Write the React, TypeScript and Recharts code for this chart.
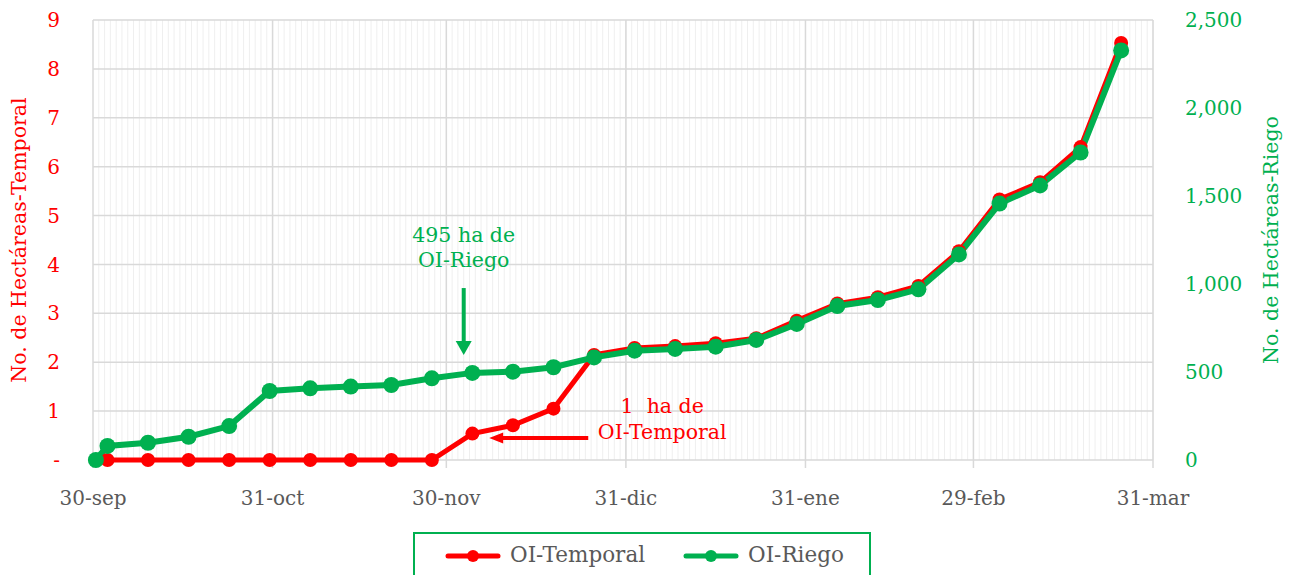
import React from 'react';
import { LineChart, Line, XAxis, YAxis, CartesianGrid, Legend, ReferenceLine, Label } from 'recharts';

const FONT = '"DejaVu Serif", serif';
const RED = '#ff0000';
const GREEN = '#00b050';
const GRAY_TEXT = '#595959';

const START = Date.UTC(2023, 8, 30);
// each date occupies a one-day slot on the axis; points sit at the slot centre
const dayOf = (iso: string) => Math.round((Date.parse(iso + 'T00:00:00Z') - START) / 86400000) + 0.5;

const temporalDates = [
  '2023-10-02', '2023-10-09', '2023-10-16', '2023-10-23', '2023-10-30',
  '2023-11-06', '2023-11-13', '2023-11-20', '2023-11-27',
  '2023-12-04', '2023-12-11', '2023-12-18', '2023-12-25',
  '2024-01-01', '2024-01-08', '2024-01-15', '2024-01-22', '2024-01-29',
  '2024-02-05', '2024-02-12', '2024-02-19', '2024-02-26',
  '2024-03-04', '2024-03-11', '2024-03-18', '2024-03-25',
];
const temporalValues = [
  0, 0, 0, 0, 0,
  0, 0, 0, 0,
  0.54, 0.71, 1.05, 2.15,
  2.29, 2.33, 2.39, 2.49, 2.85,
  3.2, 3.33, 3.56, 4.27,
  5.33, 5.68, 6.4, 8.53,
];

const riegoDates = [
  '2023-09-30',
  '2023-10-02', '2023-10-09', '2023-10-16', '2023-10-23', '2023-10-30',
  '2023-11-06', '2023-11-13', '2023-11-20', '2023-11-27',
  '2023-12-04', '2023-12-11', '2023-12-18', '2023-12-25',
  '2024-01-01', '2024-01-08', '2024-01-15', '2024-01-22', '2024-01-29',
  '2024-02-05', '2024-02-12', '2024-02-19', '2024-02-26',
  '2024-03-04', '2024-03-11', '2024-03-18', '2024-03-25',
];
const riegoValues = [
  0,
  80, 98, 132, 193, 392,
  407, 417, 426, 464,
  495, 502, 527, 583,
  621, 631, 644, 682, 773,
  875, 909, 970, 1168,
  1457, 1560, 1747, 2327,
];

const xTickDays = [0, 31, 61, 92, 123, 152, 183];
const xTickLabels = ['30-sep', '31-oct', '30-nov', '31-dic', '31-ene', '29-feb', '31-mar'];
const leftTicks = [0, 1, 2, 3, 4, 5, 6, 7, 8, 9];
const rightTicks = [0, 500, 1000, 1500, 2000, 2500];
const minorDays = Array.from({ length: 183 }, (_, i) => i + 1);
const X_MAX = 183;

// annotation anchors (data coordinates)
const riegoNoteDay = 64;
const riegoNoteFrom = 977;
const riegoNoteTo = 597;
const temporalNoteFromDay = 85.5;
const temporalNoteToDay = 68.4;
const temporalNoteValue = 0.45;

type Row = { day: number; temporal?: number; riego?: number };
const rowMap = new Map<number, Row>();
riegoDates.forEach((d, i) => {
  const day = dayOf(d);
  const r = rowMap.get(day) || { day };
  r.riego = riegoValues[i];
  rowMap.set(day, r);
});
temporalDates.forEach((d, i) => {
  const day = dayOf(d);
  const r = rowMap.get(day) || { day };
  r.temporal = temporalValues[i];
  rowMap.set(day, r);
});
const data: Row[] = Array.from(rowMap.values()).sort((a, b) => a.day - b.day);

const GreenArrow = (p: any) => {
  const { x1, y1, x2, y2 } = p;
  const head = 14;
  const hw = 8;
  return (
    <g>
      <line x1={x1} y1={y1} x2={x2} y2={y2 - head + 1} stroke={GREEN} strokeWidth={4} />
      <polygon points={`${x2 - hw},${y2 - head} ${x2 + hw},${y2 - head} ${x2},${y2}`} fill={GREEN} />
      <text x={x1} y={y1 - 46} textAnchor="middle" fill={GREEN} fontFamily={FONT} fontSize={20.5}>495 ha de</text>
      <text x={x1} y={y1 - 21} textAnchor="middle" fill={GREEN} fontFamily={FONT} fontSize={20.5}>OI-Riego</text>
    </g>
  );
};

const RedArrow = (p: any) => {
  const { x1, y1, x2, y2 } = p;
  const head = 14;
  const hw = 5.5;
  return (
    <g>
      <line x1={x1} y1={y1} x2={x2 + head - 1} y2={y2} stroke={RED} strokeWidth={4} />
      <polygon points={`${x2 + head},${y2 - hw} ${x2 + head},${y2 + hw} ${x2},${y2}`} fill={RED} />
      <text x={x1 + 74} y={y1 - 25} textAnchor="middle" fill={RED} fontFamily={FONT} fontSize={20.5} style={{ whiteSpace: 'pre' }}>{'1  ha de'}</text>
      <text x={x1 + 74} y={y1 + 1} textAnchor="middle" fill={RED} fontFamily={FONT} fontSize={20.5}>OI-Temporal</text>
    </g>
  );
};

const LegendIcon = ({ color }: { color: string }) => (
  <svg width={56} height={14} style={{ display: 'block' }}>
    <line x1={3} y1={7} x2={53} y2={7} stroke={color} strokeWidth={5} strokeLinecap="round" />
    <circle cx={28} cy={7} r={6} fill={color} />
  </svg>
);

const LegendContent = () => (
  <div style={{ position: 'relative', width: '100%', height: '100%', fontFamily: FONT, fontSize: 21.5, color: GRAY_TEXT }}>
    <div style={{ position: 'absolute', left: 30, top: 15 }}><LegendIcon color={RED} /></div>
    <div style={{ position: 'absolute', left: 95, top: 7, lineHeight: '28px', whiteSpace: 'nowrap' }}>OI-Temporal</div>
    <div style={{ position: 'absolute', left: 268, top: 15 }}><LegendIcon color={GREEN} /></div>
    <div style={{ position: 'absolute', left: 333, top: 7, lineHeight: '28px', whiteSpace: 'nowrap' }}>OI-Riego</div>
  </div>
);

const LeftTitle = (props: any) => {
  const vb = props.viewBox || { x: 0, y: 0, width: 0, height: 0 };
  const cx = vb.x + 11;
  const cy = vb.y + vb.height / 2;
  return (
    <text x={cx} y={cy} transform={`rotate(-90 ${cx} ${cy})`} textAnchor="middle" dominantBaseline="central" fill={RED} fontFamily={FONT} fontSize={20.5}>
      No. de Hectáreas-Temporal
    </text>
  );
};

const RightTitle = (props: any) => {
  const vb = props.viewBox || { x: 0, y: 0, width: 0, height: 0 };
  const cx = vb.x + 118;
  const cy = vb.y + vb.height / 2;
  return (
    <text x={cx} y={cy} transform={`rotate(-90 ${cx} ${cy})`} textAnchor="middle" dominantBaseline="central" fill={GREEN} fontFamily={FONT} fontSize={20.5}>
      No. de Hectáreas-Riego
    </text>
  );
};

const applyScale = (s: any, v: number): number | null => {
  if (!s) return null;
  if (typeof s === 'function') {
    const r = s(v);
    return typeof r === 'number' ? r : null;
  }
  if (typeof s.map === 'function') {
    const r = s.map(v);
    return typeof r === 'number' ? r : null;
  }
  if (typeof s.scale === 'function') {
    const r = s.scale(v);
    return typeof r === 'number' ? r : null;
  }
  return null;
};

const minorGenerator = (args: any) => {
  const xAxis = args && args.xAxis;
  const offset = (args && args.offset) || { left: 85, width: 1060 };
  return minorDays.map((d) => {
    const p = applyScale(xAxis && xAxis.scale, d);
    return p != null && isFinite(p) ? p : offset.left + (d / X_MAX) * offset.width;
  });
};

export default function App() {
  return (
    <div style={{ width: 1279, height: 575, overflow: 'hidden', marginBottom: -8 }}>
      <LineChart width={1279} height={575} data={data} margin={{ top: 12, right: 0, bottom: 13, left: 0 }}>
        <CartesianGrid
          horizontal={false}
          stroke="#efefef"
          strokeWidth={1}
          yAxisId="left"
          verticalCoordinatesGenerator={minorGenerator}
        />
        <CartesianGrid stroke="#d9d9d9" strokeWidth={1.5} yAxisId="left" />
        <XAxis
          type="number"
          dataKey="day"
          domain={[0, X_MAX]}
          ticks={xTickDays}
          tickFormatter={(v: number) => xTickLabels[xTickDays.indexOf(v)] ?? ''}
          axisLine={false}
          tickLine={{ stroke: '#d9d9d9', strokeWidth: 1.5 }}
          tickSize={8}
          tickMargin={23}
          height={40}
          interval={0}
          tick={{ fill: GRAY_TEXT, fontFamily: FONT, fontSize: 20 }}
        />
        <YAxis
          yAxisId="left"
          domain={[0, 9]}
          ticks={leftTicks}
          interval={0}
          width={85}
          axisLine={false}
          tickLine={false}
          tickSize={0}
          tickMargin={33}
          tickFormatter={(v: number) => (v === 0 ? '-' : String(v))}
          tick={{ fill: RED, fontFamily: FONT, fontSize: 20 }}
        >
          <Label content={LeftTitle} />
        </YAxis>
        <YAxis
          yAxisId="right"
          orientation="right"
          domain={[0, 2500]}
          ticks={rightTicks}
          interval={0}
          width={134}
          axisLine={false}
          tickLine={false}
          tickSize={0}
          tickMargin={32}
          tickFormatter={(v: number) => v.toLocaleString('en-US')}
          tick={{ fill: GREEN, fontFamily: FONT, fontSize: 20 }}
        >
          <Label content={RightTitle} />
        </YAxis>
        <Legend
          layout="vertical"
          align="center"
          verticalAlign="bottom"
          wrapperStyle={{ position: 'absolute', left: 405, top: 524, width: 458, height: 70, border: `2px solid ${GREEN}`, boxSizing: 'border-box' }}
          content={LegendContent}
        />
        <Line
          yAxisId="left"
          dataKey="temporal"
          name="OI-Temporal"
          stroke={RED}
          strokeWidth={5}
          dot={{ r: 7, fill: RED, stroke: RED, strokeWidth: 0 }}
          activeDot={false}
          isAnimationActive={false}
        />
        <Line
          yAxisId="right"
          dataKey="riego"
          name="OI-Riego"
          stroke={GREEN}
          strokeWidth={6}
          dot={{ r: 8, fill: GREEN, stroke: GREEN, strokeWidth: 0 }}
          activeDot={false}
          isAnimationActive={false}
        />
        <ReferenceLine
          yAxisId="right"
          segment={[{ x: riegoNoteDay, y: riegoNoteFrom }, { x: riegoNoteDay, y: riegoNoteTo }]}
          shape={GreenArrow}
        />
        <ReferenceLine
          yAxisId="left"
          segment={[{ x: temporalNoteFromDay, y: temporalNoteValue }, { x: temporalNoteToDay, y: temporalNoteValue }]}
          shape={RedArrow}
        />
      </LineChart>
    </div>
  );
}
